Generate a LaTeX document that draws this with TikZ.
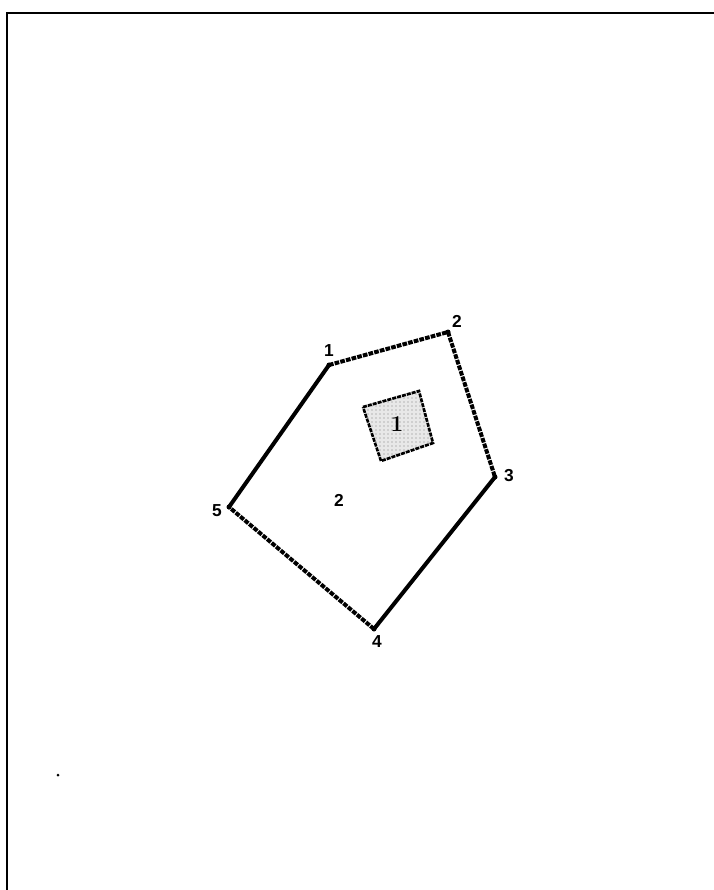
\documentclass[tikz,border=0pt]{standalone}
\usepackage{fontspec}
\setsansfont{Liberation Sans}
\usetikzlibrary{patterns}
\begin{document}
\begin{tikzpicture}[x=0.75pt,y=-0.75pt,
  solidedge/.style={line width=3pt,line cap=round},
  dashedge/.style={line width=3pt,dash pattern=on 3.5pt off 0.9pt},
  vlabel/.style={font=\sffamily\bfseries\fontsize{13}{15}\selectfont},
  framestyle/.style={line width=2.2pt}]
\useasboundingbox (0,0) rectangle (714,890);
% frame
\coordinate (ftr) at (714,13);
\coordinate (ftl) at (7,13);
\coordinate (fbl) at (7,890);
\draw[framestyle] (ftr) -- (ftl) -- (fbl);
% stray dot
\fill (58,775) circle (1.5);
% vertices
\coordinate (v1) at (329,365);
\coordinate (v2) at (448,332);
\coordinate (v3) at (495,477);
\coordinate (v4) at (374,629);
\coordinate (v5) at (229,507);
\draw[dashedge] (v1) -- (v2);
\draw[dashedge] (v2) -- (v3);
\draw[solidedge] (v3) -- (v4);
\draw[dashedge] (v4) -- (v5);
\draw[solidedge] (v5) -- (v1);
\foreach \v in {v1,v2,v3,v4,v5} \fill (\v) circle (2.5);
% inner square
\coordinate (s1) at (363,407);
\coordinate (s2) at (419,391);
\coordinate (s3) at (433,443);
\coordinate (s4) at (381,461);
\fill[gray!18] (s1) -- (s2) -- (s3) -- (s4) -- cycle;
\fill[pattern=dots,pattern color=gray] (s1) -- (s2) -- (s3) -- (s4) -- cycle;
\draw[line width=2pt,dash pattern=on 3pt off 0.8pt] (s1) -- (s2) -- (s3) -- (s4) -- cycle;
\node[text=black,font=\bfseries\fontsize{17}{19}\selectfont] (inner) at (397,424) {1};
% labels
\node[vlabel] (l1) at (329,351) {1};
\node[vlabel] (l2) at (457,321) {2};
\node[vlabel] (l3) at (509,476) {3};
\node[vlabel] (l4) at (377,642) {4};
\node[vlabel] (l5) at (217,511) {5};
\node[vlabel] (outer) at (339,500) {2};
\end{tikzpicture}
\end{document}
